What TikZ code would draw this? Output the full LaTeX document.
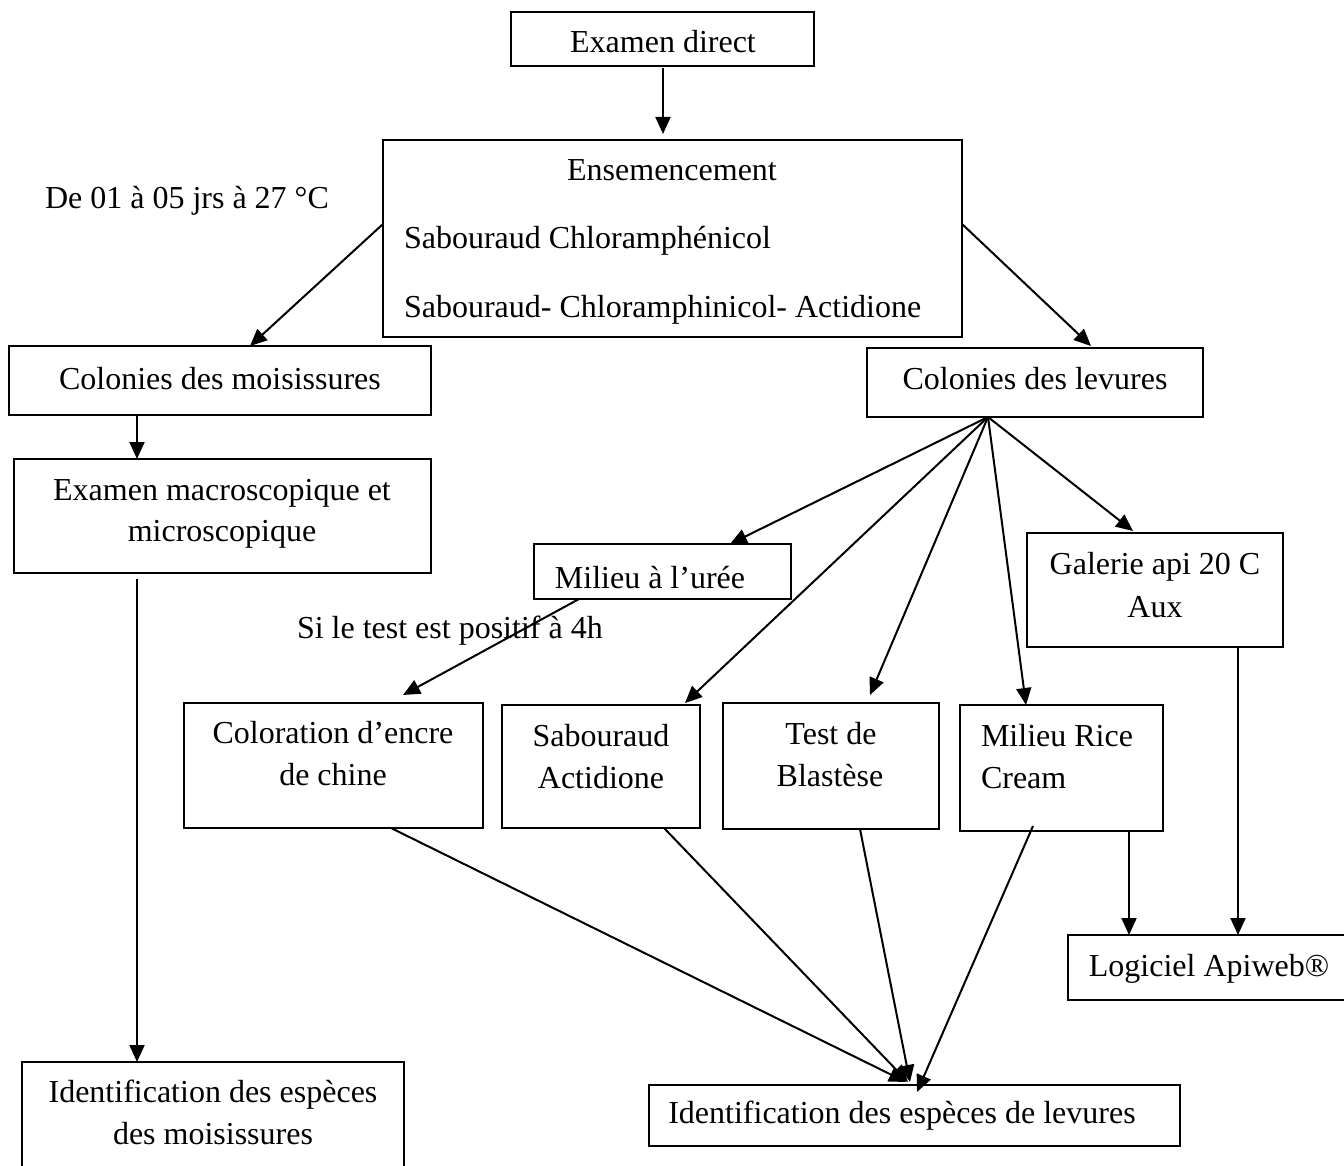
\documentclass[tikz,border=0pt]{standalone}
\usepackage{fontspec}
\setmainfont{Liberation Serif}
\usetikzlibrary{arrows.meta}
\tikzset{
  box/.style={draw, line width=1.8pt, inner sep=0pt, outer sep=0pt},
  txt/.style={font=\fontsize{32}{38}\selectfont, inner sep=0pt, outer sep=0pt, anchor=base},
  txtl/.style={txt, anchor=base west},
  arr/.style={line width=2pt, -{Triangle[length=17pt,width=15pt]}},
  ln/.style={line width=2pt}
}
\newcommand{\bx}[5]{\node[box, minimum width=#4pt-#2pt, minimum height=#5pt-#3pt] (#1) at ({(#2+#4)/2},{(#3+#5)/2}) {};}
\begin{document}
\begin{tikzpicture}[x=1pt,y=-1pt]
\useasboundingbox (0,0) rectangle (1344,1166);
\clip (0,0) rectangle (1344,1166);
% boxes
\bx{ed}{511}{12}{814}{66}
\bx{ens}{383}{140}{962}{337}
\bx{mois}{9}{346}{431}{415}
\bx{lev}{867}{348}{1203}{417}
\bx{macro}{14}{459}{431}{573}
\bx{uree}{534}{544}{791}{599}
\bx{gal}{1027}{533}{1283}{647}
\bx{col}{184}{703}{483}{828}
\bx{sab}{502}{705}{700}{828}
\bx{blast}{723}{703}{939}{829}
\bx{rice}{960}{705}{1163}{831}
\bx{logi}{1068}{935}{1370}{1000}
\bx{idl}{649}{1085}{1180}{1146}
\bx{idm}{22}{1062}{404}{1200}
% texts
\node[txt] (ed-t) at (663,53) {Examen direct};
\node[txt] (ens-t1) at (672,181) {Ensemencement};
\node[txtl] (ens-t2) at (404,249) {Sabouraud Chloramphénicol};
\node[txtl] (ens-t3) at (404,318) {Sabouraud- Chloramphinicol- Actidione};
\node[txtl] (cond) at (45,209) {De 01 à 05 jrs à 27 °C};
\node[txt] (mois-t) at (220,389) {Colonies des moisissures};
\node[txt] (lev-t) at (1035,389) {Colonies des levures};
\node[txt] (macro-t1) at (222,500) {Examen macroscopique et};
\node[txt] (macro-t2) at (222,541) {microscopique};
\node[txt] (uree-t) at (650,588) {Milieu à l’urée};
\node[txtl] (pos) at (297,638) {Si le test est positif à 4h};
\node[txt] (gal-t1) at (1155,574) {Galerie api 20 C};
\node[txt] (gal-t2) at (1155,617) {Aux};
\node[txt] (col-t1) at (333,743) {Coloration d’encre};
\node[txt] (col-t2) at (333,785) {de chine};
\node[txt] (sab-t1) at (601,746) {Sabouraud};
\node[txt] (sab-t2) at (601,788) {Actidione};
\node[txt] (blast-t1) at (831,744) {Test de};
\node[txt] (blast-t2) at (830,786) {Blastèse};
\node[txtl] (rice-t1) at (981,746) {Milieu Rice};
\node[txtl] (rice-t2) at (981,788) {Cream};
\node[txt] (logi-t) at (1209,976) {Logiciel Apiweb®};
\node[txt] (idl-t) at (902,1123) {Identification des espèces de levures};
\node[txt] (idm-t1) at (213,1102) {Identification des espèces};
\node[txt] (idm-t2) at (213,1144) {des moisissures};
% connectors
\draw[arr] ([xshift=152pt,yshift=-2pt]ed.south west) -- ([xshift=280pt,yshift=6pt]ens.north west);
\draw[arr] ([yshift=-84pt]ens.north west) -- ([xshift=241pt]mois.north west);
\draw[arr] ([yshift=-84pt]ens.north east) -- ([xshift=224pt,yshift=2pt]lev.north west);
\draw[arr] ([xshift=128pt]mois.south west) -- ([xshift=123pt]macro.north west);
\draw[arr] ([xshift=123pt,yshift=-6pt]macro.south west) -- ([xshift=115pt]idm.north west);
\draw[arr] ([xshift=121pt]lev.south west) -- ([xshift=196pt]uree.north west);
\draw[arr] ([xshift=121pt]lev.south west) -- ([xshift=183pt,yshift=2pt]sab.north west);
\draw[arr] ([xshift=121pt]lev.south west) -- ([xshift=147pt,yshift=8pt]blast.north west);
\draw[arr] ([xshift=121pt]lev.south west) -- ([xshift=66pt]rice.north west);
\draw[arr] ([xshift=121pt]lev.south west) -- ([xshift=106pt,yshift=2pt]gal.north west);
\draw[arr] ([xshift=45pt]uree.south west) -- ([xshift=219pt,yshift=8pt]col.north west);
\draw[arr] ([xshift=211pt]gal.south west) -- ([xshift=170pt]logi.north west);
\draw[arr] ([xshift=169pt]rice.south west) -- ([xshift=61pt]logi.north west);
\draw[arr] ([xshift=207pt]col.south west) -- ([xshift=257pt,yshift=3pt]idl.north west);
\draw[arr] ([xshift=162pt]sab.south west) -- ([xshift=259pt,yshift=3pt]idl.north west);
\draw[arr] ([xshift=137pt]blast.south west) -- ([xshift=261pt,yshift=3pt]idl.north west);
\draw[arr] ([xshift=73pt,yshift=5pt]rice.south west) -- ([xshift=268pt,yshift=-7pt]idl.north west);
\end{tikzpicture}
\end{document}
